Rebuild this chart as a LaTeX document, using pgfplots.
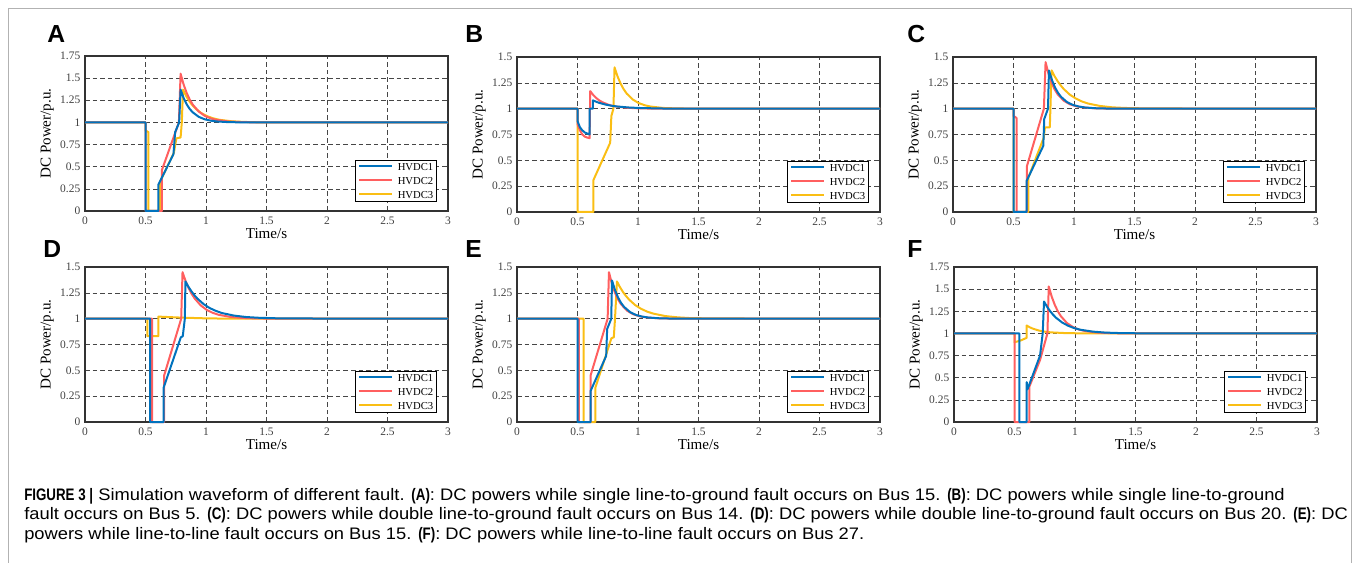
\documentclass[border=0pt]{standalone}
\usepackage{fontspec}
\setmainfont{Liberation Serif}
\newfontfamily\capfont{Liberation Sans}[FakeStretch=1.1]
\newfontfamily\capcond{Liberation Sans}[FakeStretch=0.8]
\usepackage{pgfplots}
\pgfplotsset{compat=1.18}
\definecolor{hvblue}{RGB}{0,114,189}
\definecolor{hvred}{RGB}{255,95,95}
\definecolor{hvyel}{RGB}{250,190,20}
\definecolor{gridc}{RGB}{70,70,70}

\pgfplotsset{
  panel/.style={
    scale only axis, width=272.25pt, height=116.25pt, anchor=north west,
    xmin=0, xmax=3, ymin=0,
    xtick={0,0.5,1,1.5,2,2.5,3},
    grid=major,
    major grid style={draw=gridc, line width=0.45pt, dash pattern=on 3.5pt off 2.2pt},
    major tick length=0pt,
    axis line style={draw=black!80, line width=0.9pt},
    tick label style={font=\fontsize{8.6}{9}\selectfont, text=black!75},
    xticklabel style={yshift=-1pt},
    /pgf/number format/assume math mode=true,
    xlabel={Time/s}, ylabel={DC Power/p.u.},
    label style={font=\fontsize{11.3}{12}\selectfont},
    xlabel style={at={(axis description cs:0.5,-0.145)}, anchor=center},
    ylabel style={at={(axis description cs:-0.104,0.5)}, anchor=center},
    clip=false,
  },
  y175/.style={ymax=1.75, ytick={0,0.25,0.5,0.75,1,1.25,1.5,1.75}},
  y150/.style={ymax=1.5, ytick={0,0.25,0.5,0.75,1,1.25,1.5}},
  s1/.style={draw=hvblue, line width=1.5pt, line join=round},
  s2/.style={draw=hvred, line width=1.5pt, line join=round},
  s3/.style={draw=hvyel, line width=1.5pt, line join=round},
}
% legend box: colour rules and series names
\newcommand{\legline}[1]{\textcolor{#1}{\rule[2.3pt]{25pt}{1.5pt}}\hspace{4pt}}
\newcommand{\hvlegend}{%
  \node[draw=black, line width=0.5pt, fill=white, anchor=south east, inner sep=2.5pt,
        align=left, font=\fontsize{8}{10.4}\selectfont]
    at (rel axis cs:1,0) [xshift=-8.25pt, yshift=6.75pt]
    {\legline{hvblue}HVDC1\\ \legline{hvred}HVDC2\\ \legline{hvyel}HVDC3};}

\begin{document}
\begin{tikzpicture}
\useasboundingbox (0pt,0pt) rectangle (1019.25pt,-422.25pt);

% (A)
\begin{axis}[panel, y175, at={(63.75pt,-42pt)}]
\addplot[s3] coordinates {(0,1)(0.5,1)(0.5,0.91)(0.524,0.89)(0.524,0)(0.62,0)(0.62,0.33)(0.735,0.66)(0.755,0.82)(0.79,0.83)(0.80,1.0)(0.81,1.37)
 (0.835,1.300)(0.86,1.244)(0.885,1.198)(0.91,1.161)(0.96,1.106)(1.01,1.070)(1.06,1.046)(1.11,1.030)(1.21,1.013)(1.31,1.006)(1.41,1.002)(1.51,1.001)(3,1)};
\addplot[s2] coordinates {(0,1)(0.5,1)(0.5,0)(0.635,0)(0.635,0.46)(0.776,1.0)(0.79,1.55)
 (0.815,1.428)(0.84,1.334)(0.865,1.260)(0.89,1.202)(0.94,1.123)(0.99,1.074)(1.04,1.045)(1.09,1.028)(1.19,1.010)(1.29,1.004)(1.39,1.001)(3,1)};
\addplot[s1] coordinates {(0,1)(0.5,1)(0.5,0)(0.607,0)(0.607,0.30)(0.731,0.64)(0.745,0.89)(0.778,1.0)(0.79,1.37)
 (0.815,1.276)(0.84,1.205)(0.865,1.153)(0.89,1.114)(0.94,1.063)(0.99,1.035)(1.04,1.020)(1.09,1.011)(1.19,1.003)(1.29,1.001)(3,1)};
\hvlegend
\end{axis}

% (B)
\begin{axis}[panel, y150, at={(387.75pt,-42.75pt)}]
\addplot[s3] coordinates {(0,1)(0.5,1)(0.5,0)(0.632,0)(0.632,0.31)(0.77,0.67)(0.78,0.93)(0.797,1.0)(0.806,1.40)
 (0.831,1.312)(0.856,1.243)(0.881,1.189)(0.906,1.147)(0.956,1.089)(1.006,1.054)(1.056,1.033)(1.106,1.020)(1.206,1.007)(1.306,1.003)(1.406,1.001)(3,1)};
\addplot[s2] coordinates {(0,1)(0.5,1)(0.5,0.85)(0.52,0.79)(0.54,0.75)(0.56,0.73)(0.58,0.72)(0.6,0.715)(0.605,1.17)
 (0.63,1.132)(0.655,1.103)(0.68,1.080)(0.705,1.063)(0.755,1.038)(0.805,1.023)(0.905,1.009)(1.005,1.003)(1.105,1.001)(3,1)};
\addplot[s1] coordinates {(0,1)(0.5,1)(0.5,0.88)(0.52,0.82)(0.54,0.79)(0.56,0.77)(0.58,0.76)(0.6,0.75)(0.6,1.0)(0.627,1.0)(0.627,1.08)
 (0.652,1.068)(0.677,1.057)(0.727,1.041)(0.777,1.029)(0.827,1.021)(0.927,1.011)(1.027,1.006)(1.227,1.001)(3,1)};
\hvlegend
\end{axis}

% (C)
\begin{axis}[panel, y150, at={(714.75pt,-42.75pt)}]
\addplot[s3] coordinates {(0,1)(0.5,1)(0.5,0)(0.622,0)(0.622,0.33)(0.75,0.72)(0.76,0.82)(0.80,0.82)(0.805,1.0)(0.815,1.37)
 (0.84,1.313)(0.865,1.265)(0.89,1.225)(0.915,1.190)(0.965,1.136)(1.015,1.098)(1.065,1.070)(1.115,1.050)(1.215,1.026)(1.315,1.013)(1.415,1.007)(1.615,1.002)(3,1)};
\addplot[s2] coordinates {(0,1)(0.5,1)(0.5,0.93)(0.525,0.91)(0.525,0)(0.61,0)(0.61,0.44)(0.751,1.0)(0.765,1.45)
 (0.79,1.335)(0.815,1.250)(0.84,1.186)(0.865,1.139)(0.915,1.077)(0.965,1.043)(1.015,1.024)(1.065,1.013)(1.165,1.004)(1.265,1.001)(3,1)};
\addplot[s1] coordinates {(0,1)(0.5,1)(0.5,0)(0.608,0)(0.608,0.30)(0.746,0.64)(0.754,0.9)(0.785,1.0)(0.793,1.37)
 (0.818,1.276)(0.843,1.205)(0.868,1.153)(0.893,1.114)(0.943,1.063)(0.993,1.035)(1.043,1.020)(1.093,1.011)(1.193,1.003)(1.293,1.001)(3,1)};
\hvlegend
\end{axis}

% (D)
\begin{axis}[panel, y150, at={(63.75pt,-200.25pt)}]
\addplot[s3] coordinates {(0,1)(0.516,1)(0.516,0.83)(0.607,0.83)(0.607,1.02)(0.7,1.015)(0.8,1.01)(1.0,1.003)(1.2,1.0)(3,1)};
\addplot[s2] coordinates {(0,1)(0.555,1)(0.555,0)(0.654,0)(0.654,0.45)(0.795,1.0)(0.806,1.45)
 (0.831,1.365)(0.856,1.297)(0.881,1.241)(0.906,1.196)(0.956,1.129)(1.006,1.085)(1.056,1.056)(1.106,1.037)(1.206,1.016)(1.306,1.007)(1.406,1.003)(1.506,1.001)(3,1)};
\addplot[s1] coordinates {(0,1)(0.538,1)(0.538,0)(0.649,0)(0.649,0.33)(0.792,0.82)(0.808,0.83)(0.825,1.0)(0.83,1.36)
 (0.855,1.308)(0.88,1.264)(0.905,1.225)(0.93,1.193)(0.98,1.141)(1.03,1.103)(1.08,1.076)(1.13,1.055)(1.23,1.030)(1.33,1.016)(1.43,1.009)(1.63,1.002)(3,1)};
\hvlegend
\end{axis}

% (E)
\begin{axis}[panel, y150, at={(387.75pt,-200.25pt)}]
\addplot[s3] coordinates {(0,1)(0.55,1)(0.55,0)(0.647,0)(0.647,0.33)(0.78,0.81)(0.80,0.82)(0.81,1.0)(0.826,1.36)
 (0.851,1.305)(0.876,1.258)(0.901,1.219)(0.926,1.185)(0.976,1.132)(1.026,1.095)(1.076,1.068)(1.126,1.049)(1.226,1.025)(1.326,1.013)(1.426,1.006)(1.626,1.002)(3,1)};
\addplot[s2] coordinates {(0,1)(0.511,1)(0.511,0)(0.608,0)(0.608,0.45)(0.749,1.0)(0.76,1.45)
 (0.785,1.335)(0.81,1.250)(0.835,1.186)(0.86,1.139)(0.91,1.077)(0.96,1.043)(1.01,1.024)(1.06,1.013)(1.16,1.004)(1.26,1.001)(3,1)};
\addplot[s1] coordinates {(0,1)(0.5,1)(0.5,0)(0.608,0)(0.608,0.30)(0.737,0.64)(0.745,0.9)(0.779,1.0)(0.785,1.37)
 (0.81,1.276)(0.835,1.205)(0.86,1.153)(0.885,1.114)(0.935,1.063)(0.985,1.035)(1.035,1.020)(1.085,1.011)(1.185,1.003)(1.285,1.001)(3,1)};
\hvlegend
\end{axis}

% (F)
\begin{axis}[panel, y175, at={(715.5pt,-200.25pt)}]
\addplot[s3] coordinates {(0,1)(0.5,1)(0.5,0.9)(0.55,0.92)(0.6,0.95)(0.6,1.09)
 (0.625,1.070)(0.65,1.055)(0.7,1.033)(0.75,1.020)(0.8,1.012)(0.9,1.005)(1.0,1.002)(1.2,1.0)(3,1)};
\addplot[s2] coordinates {(0,1)(0.5,1)(0.5,0)(0.623,0)(0.623,0.40)(0.711,0.70)(0.772,1.0)(0.783,1.53)
 (0.808,1.413)(0.833,1.322)(0.858,1.250)(0.883,1.195)(0.933,1.118)(0.983,1.072)(1.033,1.043)(1.083,1.027)(1.183,1.010)(1.283,1.004)(1.383,1.001)(3,1)};
\addplot[s1] coordinates {(0,1)(0.54,1)(0.54,0)(0.601,0)(0.601,0.45)(0.608,0.37)(0.711,0.75)(0.733,1.0)(0.744,1.36)
 (0.769,1.301)(0.794,1.252)(0.819,1.211)(0.844,1.176)(0.894,1.123)(0.944,1.086)(0.994,1.060)(1.044,1.042)(1.144,1.021)(1.244,1.010)(1.344,1.005)(1.544,1.001)(3,1)};
\hvlegend
\end{axis}

% panel letters
\begin{scope}[every node/.style={anchor=base west, inner sep=0pt, font=\fontspec{Liberation Sans}\bfseries\fontsize{18.5}{19}\selectfont}]
\node at (35.25pt,-32.25pt) {A};
\node at (348.75pt,-32.25pt) {B};
\node at (680.25pt,-32.25pt) {C};
\node at (32.25pt,-192.75pt) {D};
\node at (348.75pt,-192.75pt) {E};
\node at (680.25pt,-192.75pt) {F};
\end{scope}

% caption
\begin{scope}[every node/.style={anchor=base west, inner sep=0pt, font=\capfont\fontsize{12.5}{14}\selectfont}]
\node at (18pt,-375pt) {{\capcond\bfseries FIGURE 3 |} Simulation waveform of different fault. {\capcond\bfseries (A)}: DC powers while single line-to-ground fault occurs on Bus 15. {\capcond\bfseries (B)}: DC powers while single line-to-ground};
\node at (18pt,-389.6pt) {fault occurs on Bus 5. {\capcond\bfseries (C)}: DC powers while double line-to-ground fault occurs on Bus 14. {\capcond\bfseries (D)}: DC powers while double line-to-ground fault occurs on Bus 20. {\capcond\bfseries (E)}: DC};
\node at (18pt,-404.25pt) {powers while line-to-line fault occurs on Bus 15. {\capcond\bfseries (F)}: DC powers while line-to-line fault occurs on Bus 27.};
\end{scope}

\draw[gray!60, line width=0.6pt] (6pt,-422.25pt) -- (6pt,-6pt) -- (1013.25pt,-6pt) -- (1013.25pt,-422.25pt);
\end{tikzpicture}
\end{document}
